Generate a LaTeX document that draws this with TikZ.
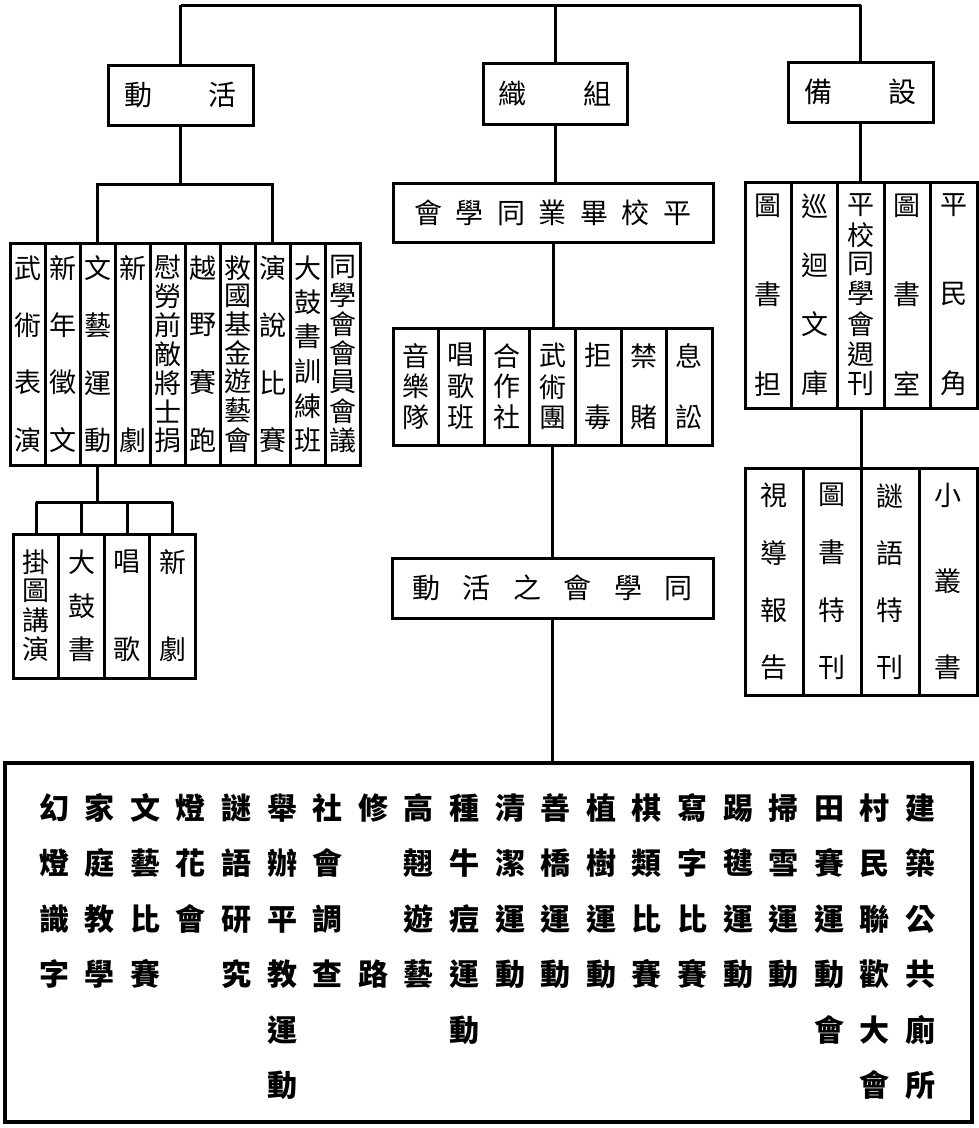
\documentclass[tikz,border=0pt]{standalone}
\usepackage{fontspec}
\setmainfont{Noto Sans CJK TC}
\newcommand\nx{\par\vfill}
\newcommand\vcol[2]{\parbox[c][#1][s]{32pt}{\centering\baselineskip=0pt\lineskip=0pt\lineskiplimit=0pt #2\par}}
\newcommand\bcol[1]{\parbox[t]{36pt}{\centering\baselineskip=55.5pt\lineskip=0pt\lineskiplimit=0pt #1\par}}
\tikzset{
  box/.style={draw, line width=3pt, inner sep=0pt, rectangle},
  head/.style={box, minimum width=145pt, minimum height=60pt, font=\fontsize{28pt}{28pt}\selectfont},
  col/.style={box, font=\fontsize{27pt}{27pt}\selectfont},
  lcol/.style={col, minimum width=35pt, minimum height=222pt},
  acol/.style={col, minimum width=45.5pt, minimum height=144pt},
  mcol/.style={col, minimum width=45.6pt, minimum height=117pt},
  rcol/.style={col, minimum width=46.4pt, minimum height=226pt},
  scol/.style={col, minimum width=58pt, minimum height=227pt},
  wide/.style={box, minimum height=60pt, font=\fontsize{28pt}{28pt}\selectfont},
  big/.style={draw, line width=3.2pt, inner sep=0pt, minimum width=967pt, minimum height=359pt},
  bchars/.style={inner sep=0pt, anchor=base, font=\fontsize{30pt}{30pt}\selectfont\bfseries},
  link/.style={line width=3pt}
}
\begin{document}
\begin{tikzpicture}[x=1pt,y=-1pt]
\useasboundingbox (0,0) rectangle (978,1128);
% top headings
\node[head] (act) at (180.5,95) {\hbox to 112pt{動\hfill 活}};
\node[head, minimum width=144pt, minimum height=61pt] (org) at (555,93.5) {\hbox to 113pt{織\hfill 組}};
\node[head] (fac) at (860.5,92) {\hbox to 113pt{備\hfill 設}};
\coordinate (ty) at (0,5);
\draw[link] (act.north |- ty) -- (fac.north |- ty);
\draw[link] (act.north |- ty) -- (act.north);
\draw[link] (org.north |- ty) -- (org.north);
\draw[link] (fac.north |- ty) -- (fac.north);
% left columns
\node[lcol] (l1) at (27.5,354) {\vcol{195pt}{武\nx 術\nx 表\nx 演}};
\node[lcol] (l2) at (62.5,354) {\vcol{195pt}{新\nx 年\nx 徵\nx 文}};
\node[lcol] (l3) at (97.5,354) {\vcol{195pt}{文\nx 藝\nx 運\nx 動}};
\node[lcol] (l4) at (132.5,354) {\vcol{195pt}{新\nx 劇}};
\node[lcol] (l5) at (167.5,354) {\vcol{195pt}{慰\nx 勞\nx 前\nx 敵\nx 將\nx 士\nx 捐}};
\node[lcol] (l6) at (202.5,354) {\vcol{195pt}{越\nx 野\nx 賽\nx 跑}};
\node[lcol] (l7) at (237.5,354) {\vcol{195pt}{救\nx 國\nx 基\nx 金\nx 遊\nx 藝\nx 會}};
\node[lcol] (l8) at (272.5,354) {\vcol{195pt}{演\nx 說\nx 比\nx 賽}};
\node[lcol] (l9) at (307.5,354) {\vcol{195pt}{大\nx 鼓\nx 書\nx 訓\nx 練\nx 班}};
\node[lcol] (l10) at (342.5,354) {\vcol{195pt}{同\nx 學\nx 會\nx 會\nx 員\nx 會\nx 議}};
\coordinate (lb) at (0,184);
\draw[link] (act.south) -- (act.south |- lb);
\draw[link] (l3.north) -- (l3.north |- lb) -- (l8.north |- lb) -- (l8.north);
% left sub columns
\node[acol] (a1) at (36,606) {\vcol{110pt}{掛\nx 圖\nx 講\nx 演}};
\node[acol] (a2) at (81.5,606) {\vcol{110pt}{大\nx 鼓\nx 書}};
\node[acol] (a3) at (127,606) {\vcol{110pt}{唱\nx 歌}};
\node[acol] (a4) at (172.5,606) {\vcol{110pt}{新\nx 劇}};
\coordinate (sb) at (0,502);
\draw[link] (l3.south) -- (l3.south |- sb);
\draw[link] (a1.north |- sb) -- (a4.north |- sb);
\foreach \i in {1,...,4} {\draw[link] (a\i.north |- sb) -- (a\i.north);}
% middle
\node[wide, minimum width=320pt, minimum height=59pt] (ms) at (553,212.5) {\hbox to 277pt{會\hfill 學\hfill 同\hfill 業\hfill 畢\hfill 校\hfill 平}};
\draw[link] (org.south) -- (org.south |- ms.north);
\node[mcol] (m1) at (415.8,386.5) {\vcol{84pt}{音\nx 樂\nx 隊}};
\node[mcol] (m2) at (461.4,386.5) {\vcol{84pt}{唱\nx 歌\nx 班}};
\node[mcol] (m3) at (507,386.5) {\vcol{84pt}{合\nx 作\nx 社}};
\node[mcol] (m4) at (552.6,386.5) {\vcol{84pt}{武\nx 術\nx 團}};
\node[mcol] (m5) at (598.2,386.5) {\vcol{84pt}{拒\nx 毒}};
\node[mcol] (m6) at (643.8,386.5) {\vcol{84pt}{禁\nx 賭}};
\node[mcol] (m7) at (689.4,386.5) {\vcol{84pt}{息\nx 訟}};
\draw[link] (ms.south) -- (ms.south |- m4.north);
\node[wide, minimum width=321pt] (act2) at (552.5,588) {\hbox to 280pt{動\hfill 活\hfill 之\hfill 會\hfill 學\hfill 同}};
\draw[link] (m4.south) -- (m4.south |- act2.north);
% right
\node[rcol] (r1) at (768.2,295) {\vcol{200pt}{圖\nx 書\nx 担}};
\node[rcol] (r2) at (814.6,295) {\vcol{200pt}{巡\nx 迴\nx 文\nx 庫}};
\node[rcol] (r3) at (861,295) {\vcol{200pt}{平\nx 校\nx 同\nx 學\nx 會\nx 週\nx 刊}};
\node[rcol] (r4) at (907.4,295) {\vcol{200pt}{圖\nx 書\nx 室}};
\node[rcol] (r5) at (953.8,295) {\vcol{200pt}{平\nx 民\nx 角}};
\draw[link] (fac.south) -- (fac.south |- r3.north);
\node[scol] (s1) at (774,581.5) {\vcol{194pt}{視\nx 導\nx 報\nx 告}};
\node[scol] (s2) at (832,581.5) {\vcol{194pt}{圖\nx 書\nx 特\nx 刊}};
\node[scol] (s3) at (890,581.5) {\vcol{194pt}{謎\nx 語\nx 特\nx 刊}};
\node[scol] (s4) at (948,581.5) {\vcol{194pt}{小\nx 叢\nx 書}};
\draw[link] (r3.south) -- (r3.south |- s2.north);
% bottom
\node[big] (bigbox) at (488.5,942.5) {};
\draw[link] (act2.south) -- (act2.south |- bigbox.north);
\node[bchars] (b1) at (54,819) {\bcol{幻\par 燈\par 識\par 字}};
\node[bchars] (b2) at (99.6,819) {\bcol{家\par 庭\par 教\par 學}};
\node[bchars] (b3) at (145.2,819) {\bcol{文\par 藝\par 比\par 賽}};
\node[bchars] (b4) at (190.8,819) {\bcol{燈\par 花\par 會}};
\node[bchars] (b5) at (236.4,819) {\bcol{謎\par 語\par 研\par 究}};
\node[bchars] (b6) at (282,819) {\bcol{舉\par 辦\par 平\par 教\par 運\par 動}};
\node[bchars] (b7) at (327.6,819) {\bcol{社\par 會\par 調\par 查}};
\node[bchars] (b8) at (373.2,819) {\bcol{修\par\mbox{}\par\mbox{}\par 路}};
\node[bchars] (b9) at (418.8,819) {\bcol{高\par 翹\par 遊\par 藝}};
\node[bchars] (b10) at (464.4,819) {\bcol{種\par 牛\par 痘\par 運\par 動}};
\node[bchars] (b11) at (510,819) {\bcol{清\par 潔\par 運\par 動}};
\node[bchars] (b12) at (555.6,819) {\bcol{善\par 橋\par 運\par 動}};
\node[bchars] (b13) at (601.2,819) {\bcol{植\par 樹\par 運\par 動}};
\node[bchars] (b14) at (646.8,819) {\bcol{棋\par 類\par 比\par 賽}};
\node[bchars] (b15) at (692.4,819) {\bcol{寫\par 字\par 比\par 賽}};
\node[bchars] (b16) at (738,819) {\bcol{踢\par 毽\par 運\par 動}};
\node[bchars] (b17) at (783.6,819) {\bcol{掃\par 雪\par 運\par 動}};
\node[bchars] (b18) at (829.2,819) {\bcol{田\par 賽\par 運\par 動\par 會}};
\node[bchars] (b19) at (874.8,819) {\bcol{村\par 民\par 聯\par 歡\par 大\par 會}};
\node[bchars] (b20) at (920.4,819) {\bcol{建\par 築\par 公\par 共\par 廁\par 所}};
\end{tikzpicture}
\end{document}
